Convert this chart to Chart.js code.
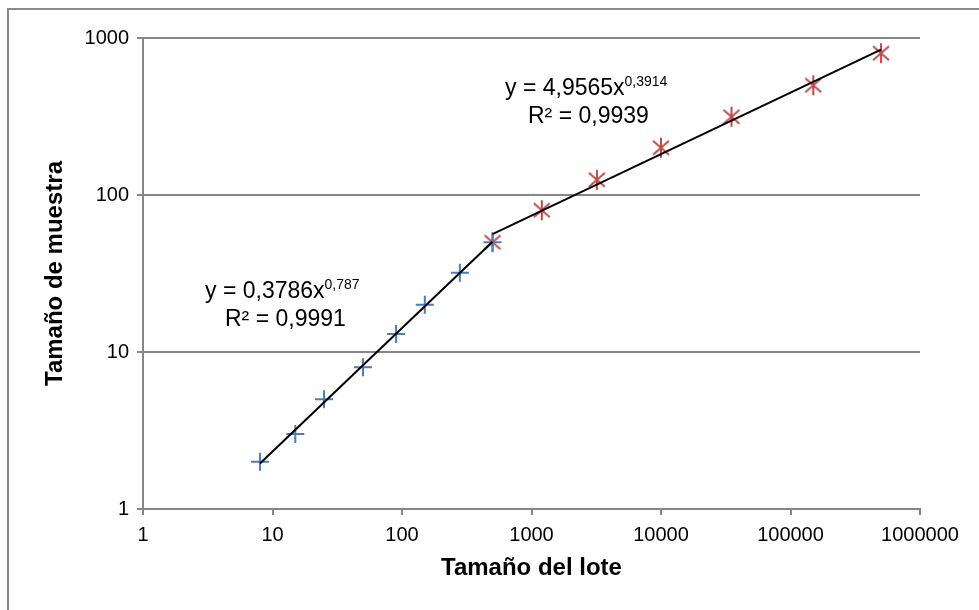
<!DOCTYPE html>
<html>
<head>
<meta charset="utf-8">
<script src="https://cdn.jsdelivr.net/npm/chart.js@4.4.1/dist/chart.umd.min.js"></script>
<style>
  html, body { margin: 0; padding: 0; background: #fff; }
  #wrap { width: 979px; height: 610px; position: relative; }
</style>
</head>
<body>
<div id="wrap"><canvas id="grafico" width="979" height="610"></canvas></div>
<script>
// datos
var loteAzul = [8, 15, 25, 50, 90, 150, 280, 500];
var muestraAzul = [2, 3, 5, 8, 13, 20, 32, 50];
var loteRojo = [500, 1200, 3200, 10000, 35000, 150000, 500000];
var muestraRojo = [50, 80, 125, 200, 315, 500, 800];
// extremos de las lineas de tendencia
var tendAzulX = [8, 500];
var tendAzulY = [1.95, 50.4];
var tendRojoX = [500, 500000];
var tendRojoY = [56.4, 843];
var ticksX = [1, 10, 100, 1000, 10000, 100000, 1000000];
var ticksY = [1, 10, 100, 1000];

function pares(xs, ys) {
    return xs.map(function (x, i) { return { x: x, y: ys[i] }; });
}

// marcador asterisco estilo Excel
var estrella = document.createElement("canvas");
estrella.width = 22;
estrella.height = 22;
var sc = estrella.getContext("2d");
sc.strokeStyle = "#be4b48";
sc.lineWidth = 2;
sc.beginPath();
sc.moveTo(11, 1); sc.lineTo(11, 21);
sc.moveTo(3, 4); sc.lineTo(19, 18);
sc.moveTo(19, 4); sc.lineTo(3, 18);
sc.stroke();

var fuente = "'Liberation Sans', Arial, sans-serif";

var extras = {
    id: "extras",
    beforeDraw: function (chart) {
        var c = chart.ctx;
        c.save();
        c.fillStyle = "#fff";
        c.fillRect(0, 0, chart.width, chart.height);
        c.restore();
    },
    afterDraw: function (chart) {
        var c = chart.ctx;
        c.save();
        // borde
        c.strokeStyle = "#8a8a8a";
        c.lineWidth = 2;
        c.beginPath();
        c.moveTo(8, 610);
        c.lineTo(8, 9);
        c.lineTo(979, 9);
        c.stroke();
        // ecuaciones
        c.fillStyle = "#000";
        c.textBaseline = "alphabetic";
        function ecuacion(x, y, base, exp, r2, r2x) {
            c.font = "23px " + fuente;
            c.fillText(base, x, y);
            var w = c.measureText(base).width;
            c.fillText(r2, r2x, y + 28);
            c.font = "14px " + fuente;
            c.fillText(exp, x + w, y - 9);
        }
        ecuacion(205, 298, "y = 0,3786x", "0,787", "R² = 0,9991", 225);
        ecuacion(505, 95, "y = 4,9565x", "0,3914", "R² = 0,9939", 528);
        c.restore();
    }
};

new Chart(document.getElementById("grafico"), {
    type: "scatter",
    data: {
        datasets: [{
            type: "line",
            data: pares(tendAzulX, tendAzulY),
            borderColor: "#000",
            borderWidth: 2,
            pointRadius: 0,
            order: 0
        }, {
            type: "line",
            data: pares(tendRojoX, tendRojoY),
            borderColor: "#000",
            borderWidth: 2,
            pointRadius: 0,
            order: 0
        }, {
            data: pares(loteAzul, muestraAzul),
            pointStyle: "cross",
            pointRadius: 9,
            pointBorderWidth: 2,
            borderColor: "#4a7ebb",
            backgroundColor: "#4a7ebb",
            order: 1
        }, {
            data: pares(loteRojo, muestraRojo),
            pointStyle: estrella,
            pointRadius: 10,
            borderColor: "#be4b48",
            backgroundColor: "#be4b48",
            order: 2
        }]
    },
    options: {
        responsive: false,
        animation: false,
        layout: { padding: { left: 0, top: 38, right: 59, bottom: 0 } },
        plugins: { legend: { display: false }, tooltip: { enabled: false } },
        scales: {
            x: {
                type: "logarithmic",
                min: 1,
                max: 1000000,
                afterBuildTicks: function (s) {
                    s.ticks = ticksX.map(function (v) { return { value: v }; });
                },
                afterFit: function (s) { s.height = 101; },
                grid: { drawOnChartArea: false, drawTicks: true, tickLength: 6, color: "#868686", lineWidth: 2 },
                border: { color: "#868686", width: 2 },
                ticks: {
                    autoSkip: false,
                    maxRotation: 0,
                    padding: 8,
                    color: "#000",
                    font: { family: fuente, size: 20 },
                    callback: function (v) { return String(v); }
                },
                title: {
                    display: true,
                    text: "Tamaño del lote",
                    color: "#000",
                    font: { family: fuente, size: 24, weight: "bold", lineHeight: 1.2 },
                    padding: { top: 0, bottom: 27 }
                }
            },
            y: {
                type: "logarithmic",
                min: 1,
                max: 1000,
                afterBuildTicks: function (s) {
                    s.ticks = ticksY.map(function (v) { return { value: v }; });
                },
                afterFit: function (s) { s.width = 143; },
                grid: { drawTicks: true, tickLength: 6, color: "#868686", lineWidth: 2 },
                border: { color: "#868686", width: 2 },
                ticks: {
                    autoSkip: false,
                    padding: 8,
                    color: "#000",
                    font: { family: fuente, size: 20 },
                    callback: function (v) { return String(v); }
                },
                title: {
                    display: true,
                    text: "Tamaño de muestra",
                    color: "#000",
                    font: { family: fuente, size: 24, weight: "bold", lineHeight: 1.2 },
                    padding: { top: 41, bottom: 0 }
                }
            }
        }
    },
    plugins: [extras]
});
</script>
</body>
</html>
